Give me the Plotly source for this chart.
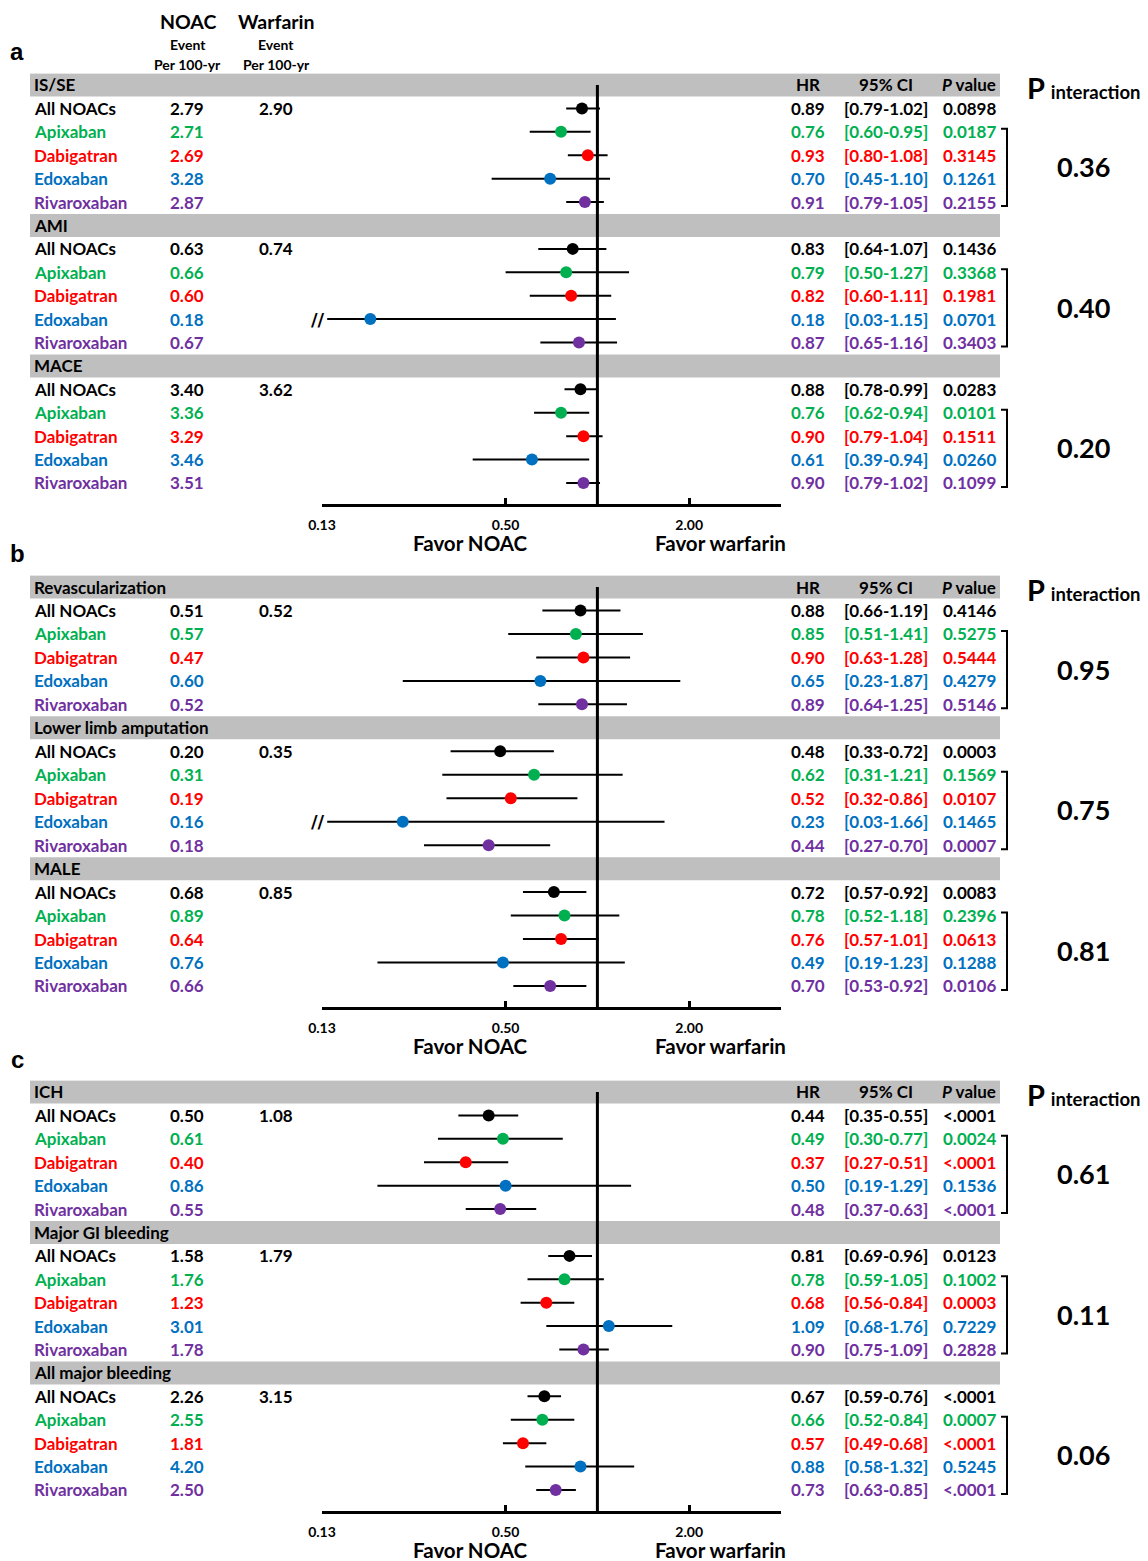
import math
import plotly.graph_objects as go

W, H = 1148, 1561

# ---------------- data ----------------
drugs = ["All NOACs", "Apixaban", "Dabigatran", "Edoxaban", "Rivaroxaban"]
outcomes = ["IS/SE", "AMI", "MACE",
            "Revascularization", "Lower limb amputation", "MALE",
            "ICH", "Major GI bleeding", "All major bleeding"]
panel_labels = ["a", "b", "c"]

noac_rate = [
    [2.79, 2.71, 2.69, 3.28, 2.87],
    [0.63, 0.66, 0.60, 0.18, 0.67],
    [3.40, 3.36, 3.29, 3.46, 3.51],
    [0.51, 0.57, 0.47, 0.60, 0.52],
    [0.20, 0.31, 0.19, 0.16, 0.18],
    [0.68, 0.89, 0.64, 0.76, 0.66],
    [0.50, 0.61, 0.40, 0.86, 0.55],
    [1.58, 1.76, 1.23, 3.01, 1.78],
    [2.26, 2.55, 1.81, 4.20, 2.50],
]
warfarin_rate = [2.90, 0.74, 3.62, 0.52, 0.35, 0.85, 1.08, 1.79, 3.15]

hr = [
    [0.89, 0.76, 0.93, 0.70, 0.91],
    [0.83, 0.79, 0.82, 0.18, 0.87],
    [0.88, 0.76, 0.90, 0.61, 0.90],
    [0.88, 0.85, 0.90, 0.65, 0.89],
    [0.48, 0.62, 0.52, 0.23, 0.44],
    [0.72, 0.78, 0.76, 0.49, 0.70],
    [0.44, 0.49, 0.37, 0.50, 0.48],
    [0.81, 0.78, 0.68, 1.09, 0.90],
    [0.67, 0.66, 0.57, 0.88, 0.73],
]
ci_low = [
    [0.79, 0.60, 0.80, 0.45, 0.79],
    [0.64, 0.50, 0.60, 0.03, 0.65],
    [0.78, 0.62, 0.79, 0.39, 0.79],
    [0.66, 0.51, 0.63, 0.23, 0.64],
    [0.33, 0.31, 0.32, 0.03, 0.27],
    [0.57, 0.52, 0.57, 0.19, 0.53],
    [0.35, 0.30, 0.27, 0.19, 0.37],
    [0.69, 0.59, 0.56, 0.68, 0.75],
    [0.59, 0.52, 0.49, 0.58, 0.63],
]
ci_high = [
    [1.02, 0.95, 1.08, 1.10, 1.05],
    [1.07, 1.27, 1.11, 1.15, 1.16],
    [0.99, 0.94, 1.04, 0.94, 1.02],
    [1.19, 1.41, 1.28, 1.87, 1.25],
    [0.72, 1.21, 0.86, 1.66, 0.70],
    [0.92, 1.18, 1.01, 1.23, 0.92],
    [0.55, 0.77, 0.51, 1.29, 0.63],
    [0.96, 1.05, 0.84, 1.76, 1.09],
    [0.76, 0.84, 0.68, 1.32, 0.85],
]
p_value = [
    ["0.0898", "0.0187", "0.3145", "0.1261", "0.2155"],
    ["0.1436", "0.3368", "0.1981", "0.0701", "0.3403"],
    ["0.0283", "0.0101", "0.1511", "0.0260", "0.1099"],
    ["0.4146", "0.5275", "0.5444", "0.4279", "0.5146"],
    ["0.0003", "0.1569", "0.0107", "0.1465", "0.0007"],
    ["0.0083", "0.2396", "0.0613", "0.1288", "0.0106"],
    ["<.0001", "0.0024", "<.0001", "0.1536", "<.0001"],
    ["0.0123", "0.1002", "0.0003", "0.7229", "0.2828"],
    ["<.0001", "0.0007", "<.0001", "0.5245", "<.0001"],
]
p_interaction = [0.36, 0.40, 0.20, 0.95, 0.75, 0.81, 0.61, 0.11, 0.06]

x_tickvals = [0.125, 0.5, 2.0]
x_ticktext = ["0.13", "0.50", "2.00"]
x_min, x_max = 0.125, 4.0
x_clip = 0.13

# ---------------- style / layout ----------------
colors = {"All NOACs": "#000000", "Apixaban": "#00b050", "Dabigatran": "#ff0000",
          "Edoxaban": "#0070c0", "Rivaroxaban": "#7030a0"}
FONT = "Lato"
FS = 17
row0_px = [85, 587, 1092]
pitch = [23.41, 23.47, 23.41]
ROW_TOP = -0.5
ROW_AX = 17.9
PLOT_L, PLOT_R = 322, 781
col_label, col_noac, col_warf = 32, 187, 276
col_hr, col_ci, col_p = 808, 886, 969
BR_X0, BR_X1 = 1001, 1007

fig = go.Figure()


def px_x(p):
    return p / W


def px_y(p):
    return 1 - p / H


def txt(text, xpx, yref, y, size=FS, color="black", anchor="center", family=FONT, yanchor="middle"):
    fig.add_annotation(text=text, x=px_x(xpx), xref="paper", y=y, yref=yref,
                       xanchor=anchor, yanchor=yanchor, showarrow=False,
                       font=dict(family=family, size=size, color=color, weight="bold"))


for p in range(3):
    n = "" if p == 0 else str(p + 1)
    xa, ya = "x" + n, "y" + n
    top = row0_px[p] + ROW_TOP * pitch[p]
    bot = row0_px[p] + ROW_AX * pitch[p]
    fig.update_layout(**{
        "xaxis" + n: dict(domain=[px_x(PLOT_L), px_x(PLOT_R)], anchor=ya, type="log",
                          range=[math.log10(x_min), math.log10(x_max)],
                          showline=True, linecolor="black", linewidth=2.5,
                          ticks="inside", ticklen=6, tickwidth=2.5, tickcolor="black",
                          tickvals=x_tickvals, ticktext=x_ticktext,
                          tickfont=dict(family=FONT, size=14, color="black", weight="bold"),
                          ticklabelstandoff=6, automargin=False,
                          showgrid=False, zeroline=False, fixedrange=True),
        "yaxis" + n: dict(domain=[px_y(bot), px_y(top)], anchor=xa,
                          range=[ROW_AX, ROW_TOP], visible=False, showgrid=False,
                          automargin=False, zeroline=False, fixedrange=True),
    })

    # panel label
    fig.add_annotation(text=panel_labels[p], x=px_x(17), xref="paper",
                       y=px_y(row0_px[p] - 33), yref="paper", showarrow=False,
                       xanchor="center", yanchor="middle",
                       font=dict(family="Liberation Sans", size=24, color="black", weight="bold"))

    # P interaction header
    fig.add_annotation(text="<span style='font-size:29px'>P</span>  <span style='font-size:18.5px'>interaction</span>",
                       x=px_x(1025), xref="paper", y=0.1, yref=ya, xanchor="left",
                       yanchor="middle", showarrow=False,
                       font=dict(family=FONT, color="black", weight="bold"))

    # favor labels
    fy = px_y(bot + 39)
    fig.add_annotation(text="Favor NOAC", x=px_x(470), xref="paper", y=fy, yref="paper",
                       showarrow=False, xanchor="center", yanchor="middle",
                       font=dict(family=FONT, size=20.5, color="black", weight="bold"))
    fig.add_annotation(text="Favor warfarin", x=px_x(720), xref="paper", y=fy, yref="paper",
                       showarrow=False, xanchor="center", yanchor="middle",
                       font=dict(family=FONT, size=20.5, color="black", weight="bold"))

    seg_x, seg_y = [], []
    pt_x = {c: [] for c in drugs}
    pt_y = {c: [] for c in drugs}

    for g in range(3):
        o = p * 3 + g
        hrow = g * 6
        # gray header bar
        fig.add_shape(type="rect", xref="paper", yref=ya, x0=px_x(30), x1=px_x(1000),
                      y0=hrow - 0.49, y1=hrow + 0.49, fillcolor="#bfbfbf",
                      line=dict(width=0), layer="below")
        txt(outcomes[o], col_label, ya, hrow, anchor="left")
        if g == 0:
            txt("HR", col_hr, ya, hrow)
            txt("95% CI", col_ci, ya, hrow)
            txt("<i>P</i> value", col_p, ya, hrow)

        for d, drug in enumerate(drugs):
            r = hrow + 1 + d
            c = colors[drug]
            txt(drug, col_label, ya, r, color=c, anchor="left")
            txt(f"{noac_rate[o][d]:.2f}", col_noac, ya, r, color=c)
            if d == 0:
                txt(f"{warfarin_rate[o]:.2f}", col_warf, ya, r, color=c)
            txt(f"{hr[o][d]:.2f}", col_hr, ya, r, color=c)
            txt(f"[{ci_low[o][d]:.2f}-{ci_high[o][d]:.2f}]", col_ci, ya, r, color=c)
            txt(p_value[o][d], col_p, ya, r, color=c)

            lo = ci_low[o][d]
            if lo < x_clip:
                fig.add_annotation(text="//", x=px_x(318), xref="paper", y=r, yref=ya,
                                   xanchor="center", yanchor="middle", showarrow=False,
                                   font=dict(family="DejaVu Sans", size=18, color="black",
                                             weight="bold"))
                lo = x_clip
            seg_x += [lo, ci_high[o][d], None]
            seg_y += [r, r, None]
            pt_x[drug].append(hr[o][d])
            pt_y[drug].append(r)

        # bracket
        y_a, y_b = hrow + 2 - 0.13, hrow + 5 + 0.17
        fig.add_shape(type="path", xref="paper", yref=ya,
                      path=f"M {px_x(BR_X0)} {y_a} L {px_x(BR_X1)} {y_a} L {px_x(BR_X1)} {y_b} L {px_x(BR_X0)} {y_b}",
                      line=dict(color="black", width=2))
        txt(f"{p_interaction[o]:.2f}", 1083, ya, hrow + 3.5, size=27)

    # CI lines (all black)
    fig.add_trace(go.Scatter(x=seg_x, y=seg_y, mode="lines", xaxis=xa, yaxis=ya,
                             line=dict(color="black", width=2), hoverinfo="skip",
                             showlegend=False))
    # reference line at HR = 1
    fig.add_trace(go.Scatter(x=[1, 1], y=[0, ROW_AX], mode="lines", xaxis=xa, yaxis=ya,
                             line=dict(color="black", width=3), hoverinfo="skip",
                             showlegend=False))
    for drug in drugs:
        fig.add_trace(go.Scatter(x=pt_x[drug], y=pt_y[drug], mode="markers", xaxis=xa,
                                 yaxis=ya, marker=dict(color=colors[drug], size=12,
                                                       line=dict(width=0)),
                                 name=drug, showlegend=False))

# column headers at the top
for xc, name in [(col_noac + 1, "NOAC"), (col_warf, "Warfarin")]:
    fig.add_annotation(text=name, x=px_x(xc), xref="paper", y=px_y(22), yref="paper",
                       showarrow=False, xanchor="center", yanchor="middle",
                       font=dict(family=FONT, size=19.5, color="black", weight="bold"))
    fig.add_annotation(text="Event", x=px_x(xc), xref="paper", y=px_y(45), yref="paper",
                       showarrow=False, xanchor="center", yanchor="middle",
                       font=dict(family=FONT, size=14, color="black", weight="bold"))
    fig.add_annotation(text="Per 100-yr", x=px_x(xc), xref="paper", y=px_y(64), yref="paper",
                       showarrow=False, xanchor="center", yanchor="middle",
                       font=dict(family=FONT, size=14, color="black", weight="bold"))

fig.update_layout(width=W, height=H,
                  margin=dict(l=0, r=0, t=0, b=0, pad=0, autoexpand=False),
                  paper_bgcolor="white", plot_bgcolor="white", showlegend=False)

fig.write_html("out.html", config={"displayModeBar": False},
               post_script="document.body.style.margin='0';document.body.style.overflow='hidden';")
